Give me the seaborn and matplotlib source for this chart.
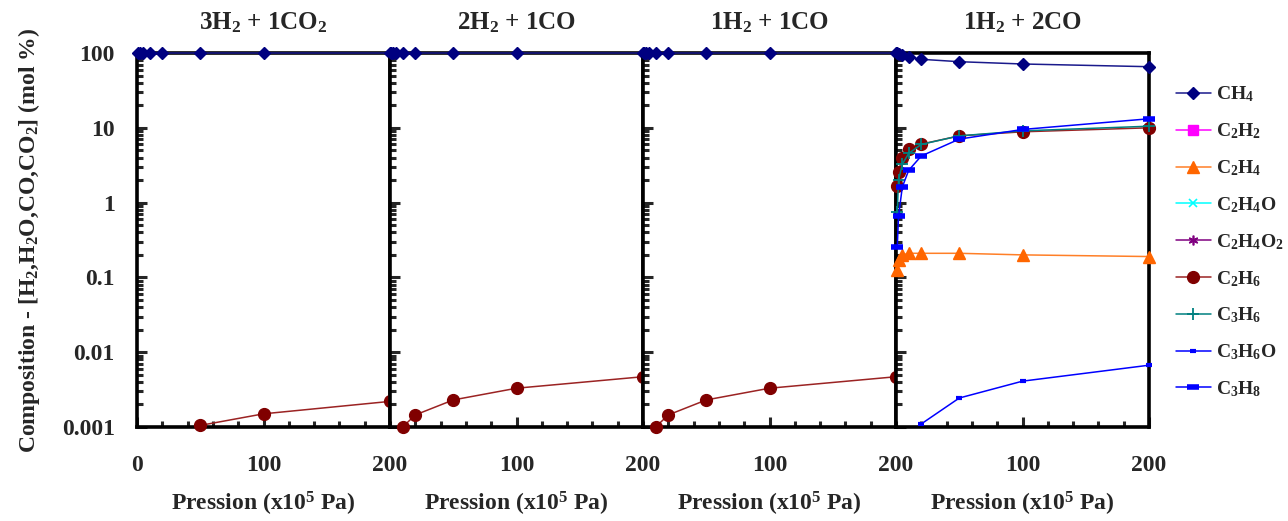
import numpy as np
import pandas as pd
import matplotlib
matplotlib.use("Agg")
import matplotlib.pyplot as plt
import matplotlib.ticker as mticker
from matplotlib.lines import Line2D
import seaborn as sns

# Pressure points (x10^5 Pa)
pressure = [1, 2, 5, 10, 20, 50, 100, 200]

# Panel titles (feed composition)
titles = ["3H$_2$ + 1CO$_2$", "2H$_2$ + 1CO", "1H$_2$ + 1CO", "1H$_2$ + 2CO"]

# CH4 (mol %) per panel
ch4_p1 = [99.99, 99.99, 99.99, 99.99, 99.99, 99.99, 99.99, 99.99]
ch4_p2 = [99.99, 99.99, 99.99, 99.99, 99.99, 99.99, 99.99, 99.98]
ch4_p3 = [99.99, 99.99, 99.99, 99.99, 99.99, 99.99, 99.98, 99.95]
ch4_p4 = [99.0, 97.0, 93.0, 89.0, 82.4, 76.5, 71.3, 65.6]

# C2H6 (mol %) - only the part above 0.001 is shown
c2h6_p1_x = [50, 100, 200]
c2h6_p1 = [0.00105, 0.0015, 0.0022]
c2h6_p23_x = [10, 20, 50, 100, 200]
c2h6_p2 = [0.001, 0.00145, 0.0023, 0.0033, 0.0047]
c2h6_p3 = [0.001, 0.00145, 0.0023, 0.0033, 0.0047]
c2h6_p4 = [1.67, 2.6, 4.0, 5.2, 6.05, 7.8, 8.84, 10.0]

# Other species, panel 4
c2h4_p4 = [0.124, 0.17, 0.2, 0.21, 0.21, 0.21, 0.2, 0.19]
c3h6_p4 = [0.75, 2.0, 3.27, 4.54, 6.0, 7.8, 9.1, 10.5]
c3h8_p4 = [0.255, 0.66, 1.62, 2.7, 4.2, 7.06, 9.5, 13.2]
c3h6o_p4_x = [20, 50, 100, 200]
c3h6o_p4 = [0.0011, 0.00244, 0.0041, 0.0067]

species = ["CH$_4$", "C$_2$H$_2$", "C$_2$H$_4$", "C$_2$H$_4$O", "C$_2$H$_4$O$_2$",
           "C$_2$H$_6$", "C$_3$H$_6$", "C$_3$H$_6$O", "C$_3$H$_8$"]

# style per species: line colour, marker colour, marker, size, edge width
styles = {
    "CH$_4$": dict(color="#1a1a8c", mfc="#000080", mec="#000080", marker="D", ms=6.5, mew=1),
    "C$_2$H$_2$": dict(color="#ff00ff", mfc="#ff00ff", mec="#ff00ff", marker="s", ms=6.5, mew=1),
    "C$_2$H$_4$": dict(color="#ff7f27", mfc="#ff6600", mec="#ff6600", marker="^", ms=8, mew=1),
    "C$_2$H$_4$O": dict(color="#00ffff", mfc="#00ffff", mec="#00ffff", marker="x", ms=6, mew=1.2),
    "C$_2$H$_4$O$_2$": dict(color="#800080", mfc="#800080", mec="#800080", marker=(6, 2, 0), ms=7, mew=1.2),
    "C$_2$H$_6$": dict(color="#9b2323", mfc="#800000", mec="#800000", marker="o", ms=8.5, mew=1),
    "C$_3$H$_6$": dict(color="#008080", mfc="#008080", mec="#008080", marker="+", ms=8, mew=1.3),
    "C$_3$H$_6$O": dict(color="#0000ff", mfc="#0000ff", mec="#0000ff", marker="_", ms=4, mew=3),
    "C$_3$H$_8$": dict(color="#0000ff", mfc="#0000ff", mec="#0000ff", marker="_", ms=9, mew=4),
}

sns.set_style("ticks")
plt.rcParams["font.family"] = ["Liberation Serif", "DejaVu Serif"]
plt.rcParams["font.weight"] = "bold"
plt.rcParams["mathtext.fontset"] = "custom"
plt.rcParams["mathtext.rm"] = "Liberation Serif:bold"
plt.rcParams["mathtext.it"] = "Liberation Serif:italic:bold"
plt.rcParams["mathtext.bf"] = "Liberation Serif:bold"


def draw(ax, x, y, name):
    st = styles[name]
    sns.lineplot(x=x, y=y, ax=ax, color=st["color"], lw=1.1, marker=st["marker"],
                 markersize=st["ms"], markerfacecolor=st["mfc"], markeredgecolor=st["mec"],
                 markeredgewidth=st["mew"], clip_on=False, zorder=3, sort=False,
                 estimator=None)


fig = plt.figure(figsize=(12.88, 5.21), dpi=100)
left, width = 137 / 1288, 253 / 1288
bottom, height = 1 - 427 / 521, (427 - 53) / 521
axes = [fig.add_axes([left + i * width, bottom, width, height]) for i in range(4)]

draw(axes[0], pressure, ch4_p1, "CH$_4$")
draw(axes[0], c2h6_p1_x, c2h6_p1, "C$_2$H$_6$")
draw(axes[1], pressure, ch4_p2, "CH$_4$")
draw(axes[1], c2h6_p23_x, c2h6_p2, "C$_2$H$_6$")
draw(axes[2], pressure, ch4_p3, "CH$_4$")
draw(axes[2], c2h6_p23_x, c2h6_p3, "C$_2$H$_6$")
draw(axes[3], pressure, ch4_p4, "CH$_4$")
draw(axes[3], pressure, c2h4_p4, "C$_2$H$_4$")
draw(axes[3], pressure, c2h6_p4, "C$_2$H$_6$")
draw(axes[3], pressure, c3h6_p4, "C$_3$H$_6$")
draw(axes[3], c3h6o_p4_x, c3h6o_p4, "C$_3$H$_6$O")
draw(axes[3], pressure, c3h8_p4, "C$_3$H$_8$")

for i, ax in enumerate(axes):
    ax.set_yscale("log")
    ax.set_ylim(0.001, 100)
    ax.set_xlim(0, 200)
    # the "0" of panels 2-4 sits under the "200" of the panel before
    xt = [0, 100, 200] if i == 0 else [100, 200]
    ax.xaxis.set_major_locator(mticker.FixedLocator(xt))
    ax.xaxis.set_minor_locator(mticker.MultipleLocator(20))
    ax.yaxis.set_major_locator(mticker.LogLocator(base=10, numticks=10))
    ax.yaxis.set_minor_locator(mticker.LogLocator(base=10, subs=np.arange(2, 10), numticks=10))
    ax.yaxis.set_minor_formatter(mticker.NullFormatter())
    for sp in ax.spines.values():
        sp.set_linewidth(2.6)
        sp.set_color("black")
        sp.set_visible(True)
    ax.tick_params(axis="both", which="major", direction="in", length=7, width=2.2,
                   labelsize=17, pad=20, right=False, top=False)
    ax.tick_params(axis="both", which="minor", direction="in", length=4, width=2.2,
                   right=False, top=False)
    ax.tick_params(axis="y", which="major", pad=16)
    ax.set_xticklabels([str(v) for v in xt], fontweight="bold")
    if i == 0:
        ax.yaxis.set_major_formatter(mticker.FuncFormatter(lambda v, p: "{:g}".format(v)))
        for lab in ax.get_yticklabels():
            lab.set_fontweight("bold")
    else:
        ax.set_yticklabels([])
    ax.set_title(titles[i], fontsize=18, fontweight="bold", pad=17)
    ax.set_xlabel("Pression (x10$^5$ Pa)", fontsize=17, fontweight="bold", labelpad=10)
    ax.set_ylabel("")

axes[0].set_ylabel("Composition - [H$_2$,H$_2$O,CO,CO$_2$] (mol %)", fontsize=17,
                   fontweight="bold", labelpad=14)

handles = []
for name in species:
    st = styles[name]
    handles.append(Line2D([], [], color=st["color"], lw=1.1, marker=st["marker"],
                          markersize=st["ms"], markerfacecolor=st["mfc"],
                          markeredgecolor=st["mec"], markeredgewidth=st["mew"]))
fig.legend(handles, species, loc="upper left", bbox_to_anchor=(1168 / 1288, 1 - 77 / 521),
           frameon=False, fontsize=14, labelspacing=0.88, handlelength=1.8,
           handletextpad=0.25, borderaxespad=0)

fig.savefig("out.png", dpi=100)
